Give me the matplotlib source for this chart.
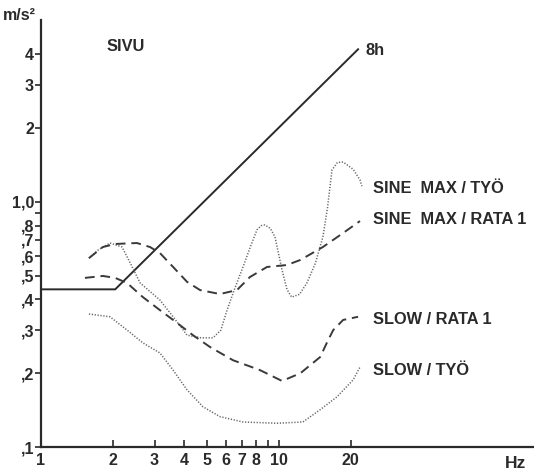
import numpy as np
import matplotlib
matplotlib.use("Agg")
import matplotlib.pyplot as plt
from matplotlib.ticker import FixedLocator, NullLocator

plt.rcParams["font.family"] = ["Liberation Sans", "DejaVu Sans"]

# 8 h limit line (Hz, m/s^2)
limit_f = [1.0, 2.05, 21.5]
limit_a = [0.44, 0.44, 4.2]

# SINE MAX / TYÖ (dotted)
sine_tyo_f = [1.59, 1.75, 1.95, 2.19, 2.37, 2.61, 3.16, 3.59, 4.11, 4.7, 5.28, 5.7,
              6.05, 6.5, 7.06, 7.6, 8.08, 8.4, 8.73, 9.2, 9.62, 10.3, 10.8, 11.3,
              12.2, 13.1, 14.2, 15.3, 16.0, 16.7, 17.6, 18.6, 20.5, 21.9, 22.3]
sine_tyo_a = [0.59, 0.64, 0.68, 0.655, 0.564, 0.467, 0.398, 0.34, 0.286, 0.279, 0.279, 0.30,
              0.362, 0.44, 0.543, 0.66, 0.769, 0.80, 0.806, 0.78, 0.72, 0.528, 0.44, 0.409,
              0.42, 0.467, 0.56, 0.72, 0.95, 1.35, 1.45, 1.456, 1.36, 1.23, 1.16]

# SINE MAX / RATA 1 (dashed)
sine_rata_f = [1.59, 1.82, 2.05, 2.53, 2.87, 3.16, 3.59, 4.11, 4.66, 5.65, 6.66, 7.55,
               8.91, 10.8, 12.3, 15.3, 18.6, 21.9]
sine_rata_a = [0.59, 0.655, 0.674, 0.68, 0.655, 0.619, 0.543, 0.472, 0.437, 0.421, 0.437, 0.494,
               0.543, 0.553, 0.58, 0.655, 0.747, 0.836]

# SLOW / RATA 1 (dashed)
slow_rata_f = [1.53, 1.82, 2.05, 2.30, 2.68, 3.16, 3.73, 4.35, 5.13, 6.41, 8.32, 10.3,
               12.3, 14.9, 16.0, 16.9, 18.6, 21.5]
slow_rata_a = [0.49, 0.499, 0.49, 0.467, 0.409, 0.362, 0.321, 0.286, 0.256, 0.226, 0.206, 0.186,
               0.20, 0.233, 0.27, 0.30, 0.33, 0.34]

# SLOW / TYÖ (dotted)
slow_tyo_f = [1.59, 1.95, 2.30, 2.68, 3.16, 3.59, 4.11, 4.79, 5.65, 7.06, 9.81, 12.6,
              14.9, 17.5, 20.5, 21.9]
slow_tyo_a = [0.349, 0.34, 0.30, 0.266, 0.242, 0.206, 0.171, 0.146, 0.133, 0.1265, 0.125, 0.1265,
              0.142, 0.16, 0.188, 0.212]

x_ticks = [1, 2, 3, 4, 5, 6, 7, 8, 9, 10, 20]
x_labels = ["1", "2", "3", "4", "5", "6", "7", "8", "", "10", "20"]
y_ticks = [0.1, 0.2, 0.3, 0.4, 0.5, 0.6, 0.7, 0.8, 0.9, 1.0, 2, 3, 4]
y_labels = [",1", ",2", ",3", ",4", ",5", ",6", ",7", ",8", "", "1,0", "2", "3", "4"]

fig = plt.figure(figsize=(5.34, 4.76), dpi=100)
ax = fig.add_axes([41 / 534, 29 / 476, 492 / 534, 427 / 476])
ax.set_xscale("log")
ax.set_yscale("log")
ax.set_xlim(1, 116.8)
ax.set_ylim(0.1, 5.53)

ink = "#2a2a2a"
ax.plot(limit_f, limit_a, color=ink, lw=1.4, solid_joinstyle="miter")
ax.plot(sine_tyo_f, sine_tyo_a, color="#666666", lw=1.1, ls=(0, (0.8, 1.1)))
ax.plot(sine_rata_f, sine_rata_a, color="#3a3a3a", lw=1.4, ls=(0, (5, 3)))
ax.plot(slow_rata_f, slow_rata_a, color="#3a3a3a", lw=1.4, ls=(0, (5, 3)))
ax.plot(slow_tyo_f, slow_tyo_a, color="#666666", lw=1.1, ls=(0, (0.8, 1.1)))

for side in ["top", "right"]:
    ax.spines[side].set_visible(False)
for side in ["left", "bottom"]:
    ax.spines[side].set_color(ink)
    ax.spines[side].set_linewidth(1.6)

ax.xaxis.set_major_locator(FixedLocator(x_ticks))
ax.xaxis.set_minor_locator(NullLocator())
ax.set_xticklabels(x_labels)
ax.yaxis.set_major_locator(FixedLocator(y_ticks))
ax.yaxis.set_minor_locator(NullLocator())
ax.set_yticklabels(y_labels)
ax.tick_params(axis="x", direction="in", length=5, width=1.2, color=ink, pad=4)
ax.tick_params(axis="y", direction="out", length=4, width=1.2, color=ink, pad=1)
for lab in ax.get_xticklabels() + ax.get_yticklabels():
    lab.set_fontweight("bold")
    lab.set_fontsize(11.5)
    lab.set_color(ink)

txt = dict(fontsize=11.8, fontweight="bold", color=ink, va="center", ha="left")
ax.text(1.89, 4.33, "SIVU", **txt)
ax.text(23.2, 4.17, "8h", **txt)
ax.text(24.8, 1.13, "SINE  MAX / TYÖ", **txt)
ax.text(24.8, 0.852, "SINE  MAX / RATA 1", **txt)
ax.text(24.8, 0.33, "SLOW / RATA 1", **txt)
ax.text(24.8, 0.206, "SLOW / TYÖ", **txt)

fig.text(3 / 534, 1 - 16 / 476, "m/s²", fontsize=11.5, fontweight="bold", color=ink,
         va="center", ha="left")
fig.text(505 / 534, 1 - 463 / 476, "Hz", fontsize=12.5, fontweight="bold", color=ink,
         va="center", ha="left")

fig.savefig("out.png", dpi=100)
